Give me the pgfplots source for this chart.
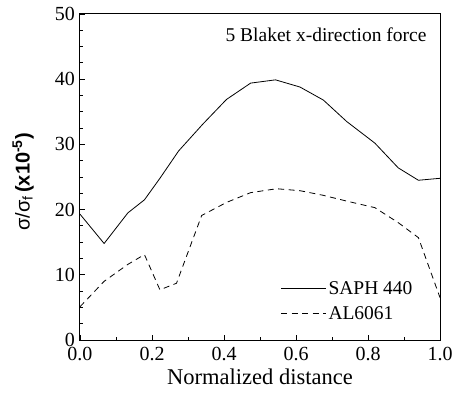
\documentclass[border=0pt]{standalone}
\usepackage{pgfplots}
\pgfplotsset{compat=1.18}
\usepackage{fontspec}
\setmainfont{Liberation Serif}
\newfontfamily\sansf{Liberation Sans}
\begin{document}
\begin{tikzpicture}
\path[use as bounding box] (-80pt,-61pt) rectangle (374pt,340pt);
\begin{axis}[
  scale only axis,
  width=360pt, height=326pt,
  xmin=0, xmax=1, ymin=0, ymax=50,
  xtick={0,0.2,0.4,0.6,0.8,1.0},
  xticklabels={0.0,0.2,0.4,0.6,0.8,1.0},
  ytick={0,10,20,30,40,50},
  yticklabels={0,10,20,30,40,50},
  minor x tick num=1,
  minor y tick num=3,
  tick align=inside,
  xtick pos=bottom, ytick pos=left,
  major tick length=5pt, minor tick length=3pt,
  tick label style={font=\fontsize{20}{22}\selectfont},
  xticklabel style={yshift=-4pt},
  yticklabel style={xshift=-1.5pt},
  xlabel={Normalized distance},
  xlabel style={at={(axis description cs:0.5,-0.112)}, anchor=center,
    font=\fontsize{22.5}{24}\selectfont},
  ylabel={\sansf σ/σ\textsubscript{f}\,\textbf{(x10\textsuperscript{-5})}},
  ylabel style={at={(axis description cs:-0.158,0.485)}, anchor=center,
    font=\fontsize{20}{22}\selectfont},
  axis line style={line width=1pt},
  every tick/.style={black, line width=0.8pt},
  legend style={draw=none, fill=none, at={(axis description cs:0.938,0.045)}, anchor=south east,
    font=\fontsize{19.5}{21}\selectfont, row sep=7pt},
  legend cell align=left,
  legend image code/.code={\draw[#1] (-3pt,0pt) -- (42pt,0pt);},
]
\addplot[black, line width=0.8pt] coordinates {
(0,19.3) (0.067,14.8) (0.133,19.5) (0.179,21.5) (0.222,24.8) (0.274,29.0)
(0.341,33.1) (0.407,36.9) (0.474,39.4) (0.543,39.9) (0.611,38.8) (0.676,36.8)
(0.741,33.5) (0.819,30.2) (0.884,26.4) (0.940,24.5) (1.0,24.8)
};
\addlegendentry{SAPH 440}
\addplot[black, line width=0.8pt, dash pattern=on 6pt off 4.5pt] coordinates {
(0,5.1) (0.067,9.0) (0.133,11.6) (0.179,13.1) (0.222,7.7) (0.268,8.7)
(0.338,19.1) (0.407,21.1) (0.474,22.6) (0.546,23.2) (0.611,22.9) (0.675,22.2)
(0.741,21.3) (0.819,20.3) (0.884,18.0) (0.940,15.7) (1.0,6.5)
};
\addlegendentry{AL6061}
\node[anchor=base east, font=\fontsize{19.5}{21}\selectfont] at ([xshift=-10pt,yshift=-28pt]rel axis cs:1,1) {5 Blaket x-direction force};
\end{axis}
\end{tikzpicture}
\end{document}
